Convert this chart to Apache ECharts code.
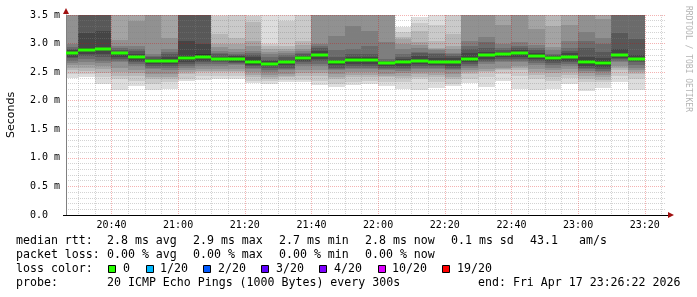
<!DOCTYPE html>
<html><head><meta charset="utf-8">
<script src="https://cdn.jsdelivr.net/npm/echarts@6/dist/echarts.min.js"></script>
<style>html,body{margin:0;padding:0;background:#fff}#c{width:697px;height:297px}</style>
</head><body><div id="c"></div><script>
// ---- time range ----
const startTime = '20:26:22';
const endTime = '23:26:22';
// ---- 5-minute bins ----
const binStart = ['20:26:22','20:30','20:35','20:40','20:45','20:50','20:55','21:00','21:05','21:10','21:15','21:20','21:25','21:30','21:35','21:40','21:45','21:50','21:55','22:00','22:05','22:10','22:15','22:20','22:25','22:30','22:35','22:40','22:45','22:50','22:55','23:00','23:05','23:10','23:15'];
const binEnd = ['20:30','20:35','20:40','20:45','20:50','20:55','21:00','21:05','21:10','21:15','21:20','21:25','21:30','21:35','21:40','21:45','21:50','21:55','22:00','22:05','22:10','22:15','22:20','22:25','22:30','22:35','22:40','22:45','22:50','22:55','23:00','23:05','23:10','23:15','23:20'];
// ---- median RTT per bin (ms) ----
const median = [2.83,2.89,2.90,2.83,2.76,2.70,2.69,2.75,2.77,2.73,2.73,2.68,2.64,2.68,2.74,2.80,2.67,2.72,2.72,2.66,2.68,2.70,2.68,2.68,2.73,2.80,2.82,2.84,2.79,2.75,2.76,2.68,2.66,2.80,2.73];
// ---- 20 sorted ping RTTs per bin (ms); 3.6 = above the 3.5 ms scale ----
const pings = [
[2.39,2.47,2.53,2.58,2.62,2.66,2.70,2.74,2.77,2.81,2.85,2.88,2.91,2.94,2.99,3.6,3.6,3.6,3.6,3.6],
[2.41,2.47,2.52,2.58,2.63,2.68,2.73,2.78,2.82,2.87,2.93,3.19,3.6,3.6,3.6,3.6,3.6,3.6,3.6,3.6],
[2.30,2.42,2.49,2.55,2.61,2.66,2.70,2.76,2.82,2.88,2.93,3.22,3.6,3.6,3.6,3.6,3.6,3.6,3.6,3.6],
[2.19,2.38,2.44,2.50,2.58,2.67,2.70,2.73,2.77,2.81,2.85,2.86,2.89,2.92,2.96,3.06,3.6,3.6,3.6,3.6],
[2.25,2.35,2.44,2.48,2.53,2.61,2.64,2.67,2.69,2.73,2.79,2.82,2.87,2.90,2.96,3.40,3.6,3.6,3.6,3.6],
[2.18,2.29,2.38,2.42,2.47,2.55,2.58,2.61,2.64,2.68,2.72,2.73,2.76,2.79,2.82,3.6,3.6,3.6,3.6,3.6],
[2.21,2.32,2.38,2.42,2.47,2.54,2.57,2.61,2.64,2.67,2.71,2.76,2.82,2.86,2.90,3.10,3.6,3.6,3.6,3.6],
[2.34,2.38,2.47,2.50,2.53,2.58,2.61,2.64,2.67,2.71,2.79,3.05,3.6,3.6,3.6,3.6,3.6,3.6,3.6,3.6],
[2.36,2.44,2.50,2.52,2.55,2.61,2.64,2.67,2.70,2.74,2.82,2.99,3.6,3.6,3.6,3.6,3.6,3.6,3.6,3.6],
[2.38,2.44,2.50,2.52,2.55,2.61,2.64,2.67,2.69,2.71,2.75,2.77,2.82,2.84,2.87,2.94,2.99,3.16,3.48,3.6],
[2.38,2.44,2.50,2.52,2.55,2.62,2.64,2.66,2.68,2.71,2.75,2.78,2.80,2.82,2.86,2.90,2.99,3.10,3.6,3.6],
[2.31,2.35,2.41,2.45,2.50,2.55,2.58,2.61,2.63,2.65,2.71,2.76,2.80,2.83,2.87,2.95,3.05,3.37,3.48,3.6],
[2.30,2.35,2.38,2.41,2.45,2.50,2.54,2.58,2.60,2.62,2.66,2.70,2.72,2.76,2.82,2.86,2.91,2.96,2.99,3.6],
[2.33,2.36,2.41,2.44,2.47,2.53,2.55,2.58,2.62,2.66,2.70,2.72,2.76,2.80,2.84,2.87,2.90,2.96,3.40,3.6],
[2.33,2.36,2.44,2.48,2.53,2.61,2.64,2.67,2.69,2.72,2.76,2.79,2.82,2.84,2.87,2.91,2.97,3.05,3.6,3.6],
[2.27,2.35,2.44,2.48,2.53,2.61,2.65,2.70,2.73,2.78,2.82,2.87,2.93,2.96,3.00,3.6,3.6,3.6,3.6,3.6],
[2.24,2.30,2.38,2.42,2.47,2.53,2.55,2.58,2.62,2.65,2.69,2.72,2.76,2.88,3.14,3.6,3.6,3.6,3.6,3.6],
[2.27,2.32,2.41,2.45,2.50,2.55,2.58,2.61,2.65,2.69,2.74,2.76,2.82,2.90,3.31,3.6,3.6,3.6,3.6,3.6],
[2.30,2.35,2.41,2.45,2.50,2.55,2.58,2.61,2.65,2.69,2.74,2.76,2.82,2.95,3.22,3.6,3.6,3.6,3.6,3.6],
[2.25,2.32,2.41,2.44,2.47,2.53,2.55,2.58,2.61,2.64,2.67,2.68,2.70,2.73,3.03,3.6,3.6,3.6,3.6,3.6],
[2.21,2.33,2.40,2.44,2.48,2.52,2.55,2.58,2.61,2.65,2.70,2.73,2.77,2.82,2.90,3.00,3.08,3.11,3.20,3.29],
[2.18,2.38,2.42,2.47,2.50,2.55,2.58,2.61,2.64,2.68,2.72,2.79,2.84,2.86,2.93,2.97,3.02,3.22,3.36,3.46],
[2.23,2.32,2.41,2.45,2.50,2.55,2.57,2.61,2.63,2.66,2.70,2.75,2.82,2.84,2.88,2.91,2.93,3.05,3.32,3.6],
[2.25,2.29,2.38,2.42,2.47,2.53,2.55,2.58,2.61,2.66,2.70,2.74,2.79,2.81,2.84,2.90,2.96,3.17,3.6,3.6],
[2.31,2.38,2.47,2.50,2.53,2.58,2.61,2.64,2.67,2.70,2.76,2.84,2.90,2.96,3.05,3.6,3.6,3.6,3.6,3.6],
[2.24,2.41,2.50,2.52,2.55,2.64,2.67,2.70,2.73,2.78,2.82,2.86,2.93,3.02,3.12,3.6,3.6,3.6,3.6,3.6],
[2.34,2.47,2.53,2.55,2.58,2.67,2.70,2.73,2.76,2.80,2.84,2.86,2.88,2.92,3.00,3.32,3.6,3.6,3.6,3.6],
[2.21,2.44,2.53,2.57,2.61,2.67,2.70,2.73,2.77,2.82,2.86,2.88,2.93,2.96,3.02,3.6,3.6,3.6,3.6,3.6],
[2.19,2.38,2.45,2.50,2.56,2.62,2.66,2.70,2.73,2.77,2.81,2.84,2.88,2.92,2.97,3.26,3.6,3.6,3.6,3.6],
[2.21,2.35,2.42,2.48,2.53,2.58,2.62,2.66,2.69,2.72,2.77,2.78,2.80,2.82,2.88,2.94,3.30,3.6,3.6,3.6],
[2.30,2.40,2.45,2.50,2.55,2.60,2.64,2.67,2.70,2.74,2.78,2.83,2.87,2.92,3.05,3.32,3.6,3.6,3.6,3.6],
[2.17,2.32,2.38,2.44,2.48,2.52,2.55,2.58,2.61,2.65,2.71,2.76,2.93,3.05,3.21,3.6,3.6,3.6,3.6,3.6],
[2.23,2.32,2.36,2.41,2.45,2.50,2.52,2.55,2.59,2.63,2.69,2.74,2.85,3.00,3.10,3.43,3.6,3.6,3.6,3.6],
[2.33,2.44,2.53,2.57,2.61,2.67,2.70,2.73,2.75,2.78,2.82,2.90,3.18,3.6,3.6,3.6,3.6,3.6,3.6,3.6],
[2.18,2.38,2.47,2.50,2.53,2.58,2.62,2.67,2.69,2.71,2.75,2.80,3.08,3.6,3.6,3.6,3.6,3.6,3.6,3.6]
];
// ---- axes ----
const xTickLabels = ['20:40','21:00','21:20','21:40','22:00','22:20','22:40','23:00','23:20'];
const yMax = 3.5, yStep = 0.5;
// ---- legend texts ----
const legendRtt = ['median rtt:', '2.8 ms avg', '2.9 ms max', '2.7 ms min', '2.8 ms now', '0.1 ms sd', '43.1', 'am/s'];
const legendLoss = ['packet loss:', '0.00 % avg', '0.00 % max', '0.00 % min', '0.00 % now'];
const lossLabels = ['0', '1/20', '2/20', '3/20', '4/20', '10/20', '19/20'];
const lossColors = ['#26ff00', '#00b8ff', '#0059ff', '#5e00ff', '#7e00ff', '#dd00ff', '#ff0000'];
const probeText = ['probe:', '20 ICMP Echo Pings (1000 Bytes) every 300s', 'end: Fri Apr 17 23:26:22 2026'];

function toMin(s){const p=s.split(':').map(Number);return p[0]*60+p[1]+(p[2]||0)/60;}
function fmt(m){const h=Math.floor(m/60), mm=Math.round(m-h*60);return (h<10?'0':'')+h+':'+(mm<10?'0':'')+mm;}
const T0 = toMin(startTime), T1 = toMin(endTime);
const gridTimes = [];
for (let t = Math.ceil(T0/5)*5; t < T1; t += 5) gridTimes.push(t);
const majorSet = new Set(xTickLabels.map(toMin));

const MONO = '"DejaVu Sans Mono", monospace';
const MAJOR = 'rgba(220,0,0,0.3)', MINOR = 'rgba(128,128,128,0.35)';
const chart = echarts.init(document.getElementById('c'), null, {renderer:'canvas'});

const binData = binStart.map((s,i)=>[toMin(s), toMin(binEnd[i]), median[i]]);

function smoke(params, api){
  const i = params.dataIndex;
  const x0 = Math.round(api.coord([api.value(0),0])[0]);
  const x1 = Math.round(api.coord([api.value(1),0])[0]);
  const p = pings[i];
  const children = [];
  for (let b = 0; b < 10; b++){
    const lo = Math.min(p[b], yMax), hi = Math.min(p[19-b], yMax);
    const yLo = Math.round(api.coord([0,lo])[1]);
    const yHi = Math.round(api.coord([0,hi])[1]);
    const g = 19*(9-b)+50;
    children.push({type:'rect', shape:{x:x0,y:yHi,width:x1-x0,height:yLo-yHi}, style:{fill:'rgb('+g+','+g+','+g+')'}});
  }
  return {type:'group', children};
}
function medianLine(params, api){
  const x0 = Math.round(api.coord([api.value(0),0])[0]);
  const x1 = Math.round(api.coord([api.value(1),0])[0]);
  const y = Math.round(api.coord([0,api.value(2)])[1]);
  return {type:'rect', shape:{x:x0,y:y-1.5,width:x1-x0,height:3}, style:{fill:lossColors[0]}};
}
function vgrid(params, api){
  const t = api.value(0);
  const x = Math.round(api.coord([t,0])[0]) + 0.5;
  const cs = params.coordSys;
  const major = majorSet.has(t);
  return {type:'line', shape:{x1:x, y1:cs.y, x2:x, y2:cs.y+cs.height},
    style:{stroke: major ? MAJOR : MINOR, lineWidth:1, lineDash:[1,1]}};
}

const graphic = [];
const LY = [241, 255, 269, 283];
const rttX = [16,107,193,279,365,451,530,579];
legendRtt.forEach((t,i)=>graphic.push({type:'text', x:rttX[i], y:LY[0], style:{text:t, font:'11.6px '+MONO, fill:'#000', verticalAlign:'middle'}}));
const lossX = [16,107,193,279,365];
legendLoss.forEach((t,i)=>graphic.push({type:'text', x:lossX[i], y:LY[1], style:{text:t, font:'11.6px '+MONO, fill:'#000', verticalAlign:'middle'}}));
graphic.push({type:'text', x:16, y:LY[2], style:{text:'loss color:', font:'11.6px '+MONO, fill:'#000', verticalAlign:'middle'}});
const sqX = [108,146,203,261,319,378,442];
const lblX = [123,160,218,276,334,392,457];
lossLabels.forEach((t,i)=>{
  graphic.push({type:'rect', shape:{x:sqX[i]+0.5, y:265.5, width:7, height:7}, style:{fill:lossColors[i], stroke:'#000', lineWidth:1}});
  graphic.push({type:'text', x:lblX[i], y:LY[2], style:{text:t, font:'11.6px '+MONO, fill:'#000', verticalAlign:'middle'}});
});
const probeX = [16,107,478];
probeText.forEach((t,i)=>graphic.push({type:'text', x:probeX[i], y:LY[3], style:{text:t, font:'11.6px '+MONO, fill:'#000', verticalAlign:'middle'}}));
graphic.push({type:'text', x:11, y:115, rotation:Math.PI/2, style:{text:'Seconds', font:'11px "DejaVu Sans", sans-serif', fill:'#000', align:'center', verticalAlign:'middle'}});
graphic.push({type:'text', x:688, y:59, rotation:-Math.PI/2, style:{text:'RRDTOOL / TOBI OETIKER', font:'8px '+MONO, fill:'#b4b4b4', align:'center', verticalAlign:'middle'}});
// axis arrows
graphic.push({type:'polygon', shape:{points:[[63,14],[69,14],[66,8]]}, style:{fill:'#a01010'}, z:20});
graphic.push({type:'polygon', shape:{points:[[668,212],[668,218],[674,215]]}, style:{fill:'#a01010'}, z:20});
graphic.push({type:'line', shape:{x1:63,y1:215.5,x2:669,y2:215.5}, style:{stroke:'#000', lineWidth:1}, z:19});

chart.setOption({
  animation:false,
  backgroundColor:'#fff',
  grid:{left:66, right:31, top:15, bottom:82, containLabel:false},
  xAxis:{type:'value', min:T0, max:T1, z:3,
    axisLine:{show:false},
    axisTick:{show:false},
    splitLine:{show:false},
    axisLabel:{customValues: xTickLabels.map(toMin), formatter: v=>fmt(v), fontFamily:'DejaVu Sans Mono', fontSize:10, color:'#000', margin:5}
  },
  yAxis:{type:'value', min:0, max:yMax, interval:yStep, z:3,
    axisLine:{show:true, lineStyle:{color:'#808080', width:1}},
    axisTick:{show:false},
    minorTick:{show:false, splitNumber:5},
    splitLine:{show:true, lineStyle:{color:MAJOR, type:[1,1], width:1}},
    minorSplitLine:{show:true, lineStyle:{color:MINOR, type:[1,1], width:1}},
    axisLabel:{align:'left', margin:36, padding:[4,0,0,0], fontFamily:'DejaVu Sans Mono', fontSize:10, color:'#000',
      formatter: v => v===0 ? '0.0' : v.toFixed(1)+' m'}
  },
  series:[
    {type:'custom', coordinateSystem:'cartesian2d', renderItem:smoke, data:binData, encode:{x:[0,1], y:2}, z:1, silent:true},
    {type:'custom', coordinateSystem:'cartesian2d', renderItem:vgrid, data:gridTimes.map(t=>[t,0]), encode:{x:0, y:1}, z:4, silent:true},
    {type:'custom', coordinateSystem:'cartesian2d', renderItem:medianLine, data:binData, encode:{x:[0,1], y:2}, z:5, silent:true}
  ],
  graphic: graphic
});
</script></body></html>
